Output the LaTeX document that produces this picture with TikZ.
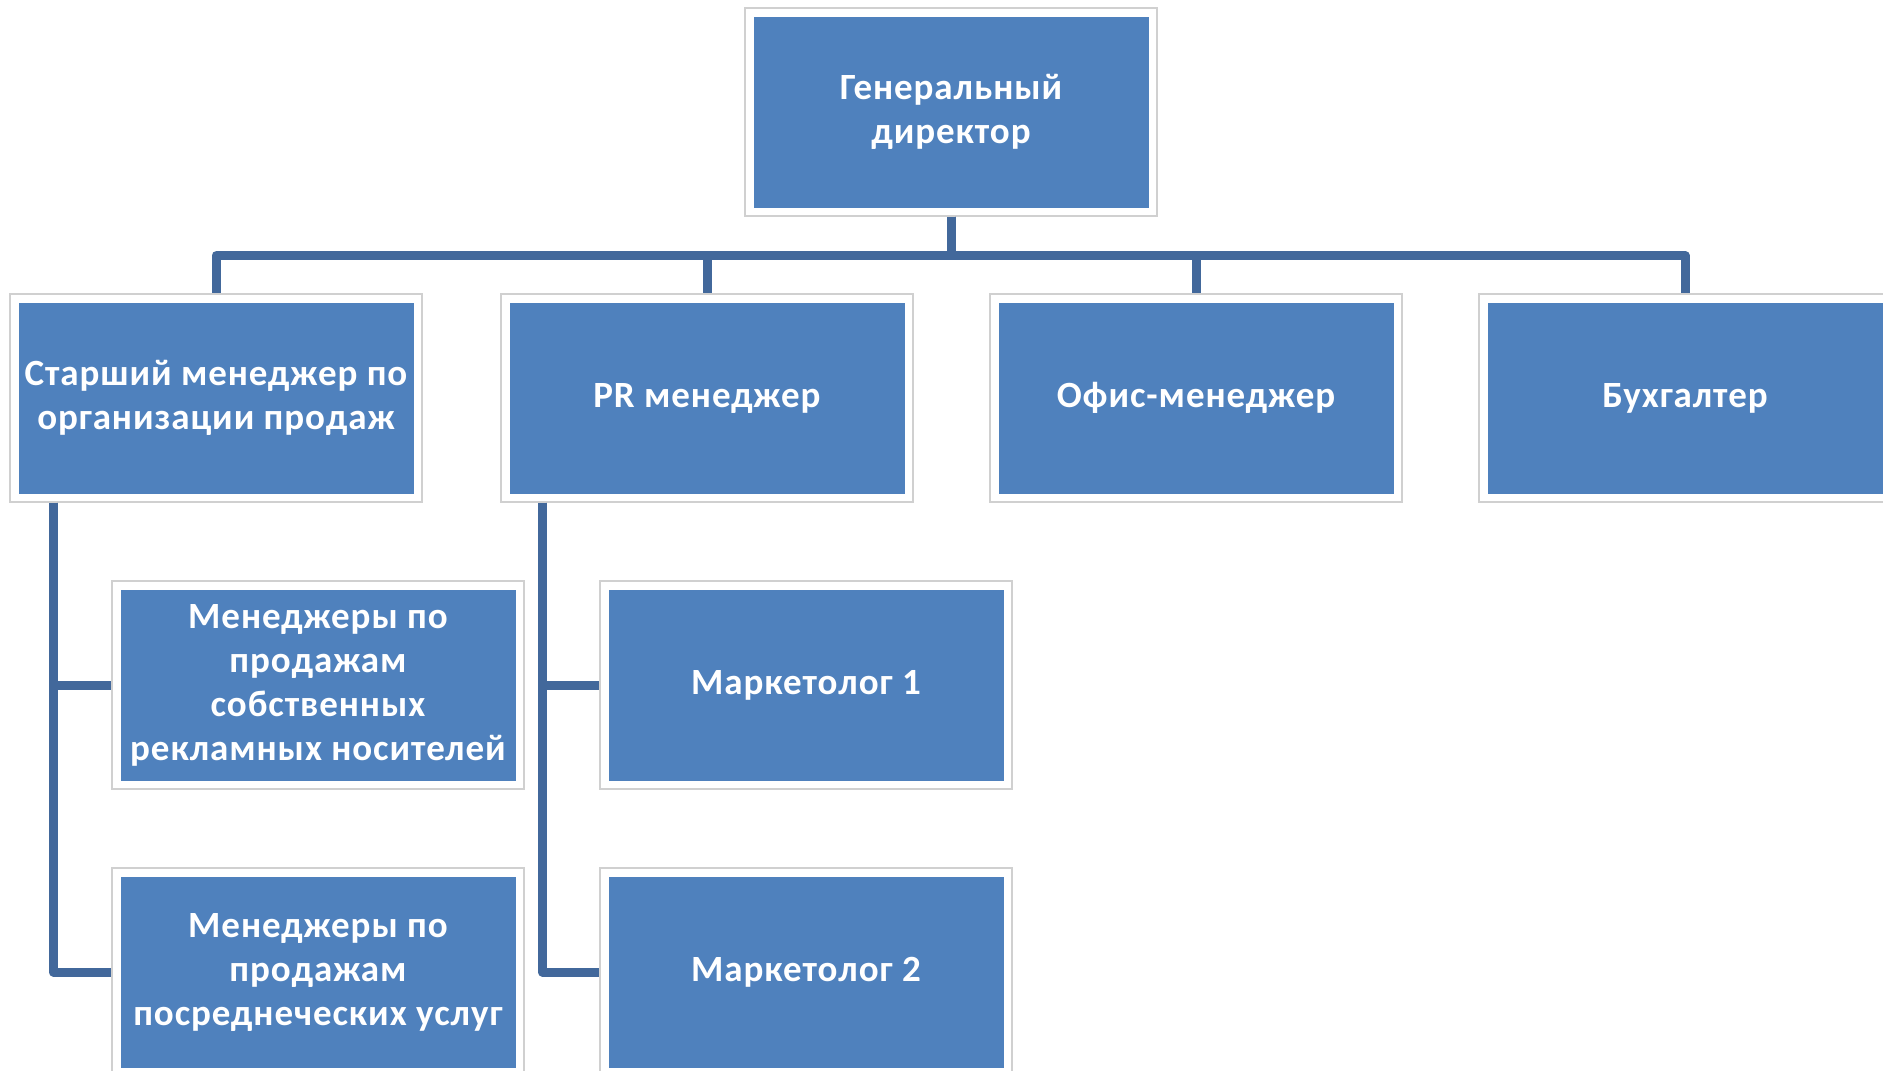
\documentclass[tikz,border=0pt]{standalone}
\usepackage{fontspec}
\setmainfont{Carlito}[LetterSpace=2.5]
\definecolor{boxblue}{RGB}{79,129,189}
\definecolor{linkblue}{RGB}{66,104,155}
\definecolor{framegray}{RGB}{208,208,208}
\begin{document}
\begin{tikzpicture}[x=1pt,y=-1pt,
  unit/.style={rectangle, minimum width=412pt, minimum height=208pt, inner sep=0pt,
    fill=white, draw=framegray, line width=1.2pt, align=center, text=white,
    font=\fontsize{37}{44}\selectfont\bfseries,
    path picture={\fill[boxblue]
      ([shift={(8.5pt,8.5pt)}]path picture bounding box.south west) rectangle
      ([shift={(-8.5pt,-8.5pt)}]path picture bounding box.north east);}},
  link/.style={draw=linkblue, line width=9pt, line join=round}]
\fill[white] (0,0) rectangle (1883,1071);
\useasboundingbox (0,0) rectangle (1883,1071);

% top level
\node[unit] (top) at (951,112) {Генеральный\\директор};

% second level
\node[unit] (c1) at (216,398)  {Старший менеджер по\\организации продаж};
\node[unit] (c2) at (707,398)  {PR менеджер};
\node[unit] (c3) at (1196,398) {Офис-менеджер};
\node[unit] (c4) at (1685,398) {Бухгалтер};

% third level
\node[unit] (a1) at (318,685)  {Менеджеры по\\продажам\\собственных\\рекламных носителей};
\node[unit] (a2) at (318,972)  {Менеджеры по\\продажам\\посреднеческих услуг};
\node[unit] (b1) at (806,685)  {Маркетолог 1};
\node[unit] (b2) at (806,972)  {Маркетолог 2};

% connectors
\foreach \c in {c1,c2,c3,c4}
  \draw[link] (top.south) -- ++(0,39) -| (\c.north);
\draw[link] ([xshift=44pt]c1.south west) |- (a1.west);
\draw[link] ([xshift=44pt]c1.south west) |- (a2.west);
\draw[link] ([xshift=42pt]c2.south west) |- (b1.west);
\draw[link] ([xshift=42pt]c2.south west) |- (b2.west);
\end{tikzpicture}
\end{document}
